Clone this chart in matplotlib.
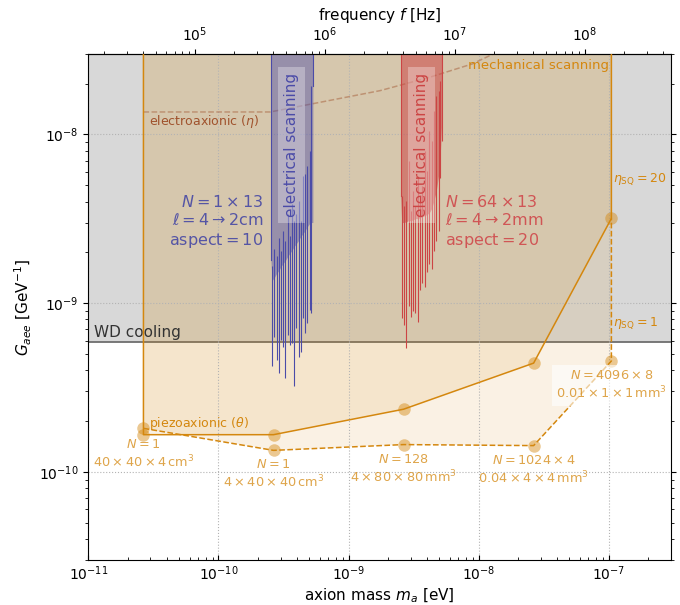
import numpy as np
import matplotlib
matplotlib.use('Agg')
import matplotlib.pyplot as plt

hbar = 6.582e-16  # eV s, top axis uses f = m / hbar

# white dwarf cooling bound
G_wd = 5.9e-10

# piezoaxionic, mechanical scanning (points for eta_SQ = 20 and eta_SQ = 1)
m_piezo = [2.65e-11, 2.65e-10, 2.65e-9, 2.65e-8, 1.05e-7]
G_sq20 = [1.66e-10, 1.66e-10, 2.35e-10, 4.41e-10, 3.18e-9]
G_sq1 = [1.81e-10, 1.34e-10, 1.45e-10, 1.43e-10, 4.54e-10]
piezo_labels = [r'$N=1$' '\n' r'$40\times40\times4\,\mathrm{cm}^3$',
                r'$N=1$' '\n' r'$4\times40\times40\,\mathrm{cm}^3$',
                r'$N=128$' '\n' r'$4\times80\times80\,\mathrm{mm}^3$',
                r'$N=1024\times4$' '\n' r'$0.04\times4\times4\,\mathrm{mm}^3$',
                r'$N=4096\times8$' '\n' r'$0.01\times1\times1\,\mathrm{mm}^3$']
label_G = [1.28e-10, 9.7e-11, 1.03e-10, 1.02e-10, 3.26e-10]

# electroaxionic reach
m_electro = [2.65e-11, 2.5e-10, 1.75e-9, 4.25e-9, 8.93e-9, 2.1e-8]
G_electro = [1.36e-8, 1.36e-8, 1.82e-8, 2.19e-8, 2.62e-8, 3.58e-8]

# electrical scanning, N = 1 x 13 (log10 of mass and coupling)
blue_edge_logm = [-9.597, -9.274]
blue_edge_env = [-8.747, -8.522]
blue_edge_top = -7.712
blue_logm = [-9.587, -9.570, -9.553, -9.536, -9.519, -9.502, -9.485, -9.468,
             -9.452, -9.435, -9.418, -9.401, -9.384, -9.367, -9.350, -9.333,
             -9.316, -9.299, -9.285]
blue_env = [-8.866, -8.848, -8.824, -8.807, -8.783, -8.765, -8.747, -8.724,
            -8.706, -8.688, -8.665, -8.647, -8.629, -8.605, -8.588, -8.570,
            -8.546, -8.528, -8.522]
blue_top = [-8.777, -8.676, -8.718, -8.611, -8.688, -8.570, -8.629, -8.469,
            -8.599, -8.410, -8.511, -8.469, -8.392, -8.511, -8.244, -8.233,
            -8.185, -8.096, -7.712]
blue_bot = [-9.375, -9.203, -9.339, -9.416, -9.221, -9.262, -9.446, -9.191,
            -9.250, -9.238, -9.493, -9.150, -9.321, -9.292, -9.091, -9.179,
            -9.120, -9.043, -9.061]

# electrical scanning, N = 64 x 13 (log10 of mass and coupling)
red_edge_logm = [-8.600, -8.278]
red_edge_env = [-8.363, -7.919]
red_edge_top = -7.623
red_logm = [-8.591, -8.573, -8.555, -8.538, -8.520, -8.502, -8.485, -8.467,
            -8.449, -8.432, -8.414, -8.396, -8.378, -8.361, -8.343, -8.325,
            -8.308, -8.293, -8.283]
red_env = [-8.522, -8.522, -8.517, -8.511, -8.511, -8.505, -8.499, -8.499,
           -8.493, -8.487, -8.481, -8.475, -8.463, -8.440, -8.392, -8.333,
           -8.244, -8.096, -7.919]
red_top = [-8.363, -8.422, -8.392, -8.156, -8.451, -8.333, -8.422, -8.244,
           -8.392, -8.304, -8.096, -8.215, -7.978, -8.037, -7.860, -7.771,
           -7.741, -7.682, -7.623]
red_bot = [-9.091, -9.132, -9.268, -9.014, -9.085, -9.049, -9.061, -9.114,
           -8.925, -8.878, -8.907, -8.818, -8.765, -8.795, -8.688, -8.629,
           -8.570, -8.256, -8.037]

xlim = (1e-11, 3e-7)
ylim = (3e-11, 3e-8)
ceil = 1e-6

orange = '#d4870e'
blue = '#4b4ba8'
red = '#cc4444'

fig = plt.figure(figsize=(6.8, 6.05), dpi=100)
ax = fig.add_axes([0.13, 0.0744, 0.8563, 0.8363])
ax.set_xscale('log')
ax.set_yscale('log')

# WD cooling
ax.fill_between(xlim, G_wd, ceil, color='gray', alpha=0.3, lw=0, zorder=0)
ax.axhline(G_wd, color='#6e6e6e', lw=1.3, zorder=1)
ax.text(1.1e-11, G_wd * 1.03, 'WD cooling', fontsize=11, color='#333333',
        va='bottom', ha='left')

# mechanical scanning regions
ax.fill_between(m_piezo, G_sq1, ceil, color=orange, alpha=0.11, lw=0, zorder=1)
ax.fill_between(m_piezo, G_sq20, ceil, color=orange, alpha=0.11, lw=0, zorder=1)
ax.plot([m_piezo[0]] + m_piezo + [m_piezo[-1]], [ceil] + G_sq20 + [ceil],
        color=orange, lw=1.1, zorder=3)
ax.plot(m_piezo + [m_piezo[-1]], G_sq1 + [G_sq20[-1]], color=orange, lw=1.1,
        ls='--', zorder=3)
ax.plot(m_piezo, G_sq20, 'o', color=orange, alpha=0.45, ms=9, mec='none', zorder=3)
ax.plot(m_piezo, G_sq1, 'o', color=orange, alpha=0.45, ms=9, mec='none', zorder=3)
for i, (m, g, s) in enumerate(zip(m_piezo, label_G, piezo_labels)):
    kw = {}
    if i == len(m_piezo) - 1:
        kw['bbox'] = dict(facecolor='white', alpha=0.6, edgecolor='none', pad=3)
    ax.text(m, g, s, ha='center', va='center', fontsize=9.3, color=orange,
            alpha=0.75, zorder=4, **kw)
ax.text(2.94e-11, 1.94e-10, r'piezoaxionic ($\theta$)', fontsize=9,
        color=orange, va='center', ha='left', zorder=4)
ax.text(1e-7, 2.55e-8, 'mechanical scanning', fontsize=9.5, color=orange,
        va='center', ha='right', zorder=4)
ax.text(1.08e-7, 5.4e-9, r'$\eta_{\rm SQ}=20$', fontsize=9, color=orange,
        va='center', ha='left', zorder=4)
ax.text(1.08e-7, 7.6e-10, r'$\eta_{\rm SQ}=1$', fontsize=9, color=orange,
        va='center', ha='left', zorder=4)

# electroaxionic
ax.plot(m_electro, G_electro, color='sienna', alpha=0.45, lw=1.1, ls='--', zorder=2)
ax.text(2.94e-11, 1.19e-8, r'electroaxionic ($\eta$)', fontsize=9,
        color='#a0522d', va='center', ha='left', zorder=4)

# electrical scanning: resonator dips below a filled envelope
for em, ee, et, lm, env, top, bot, c, a in [
        (blue_edge_logm, blue_edge_env, blue_edge_top, blue_logm, blue_env,
         blue_top, blue_bot, blue, 0.45),
        (red_edge_logm, red_edge_env, red_edge_top, red_logm, red_env,
         red_top, red_bot, red, 0.55)]:
    xs = 10**np.array([em[0]] + lm + [em[1]])
    ys = 10**np.array([ee[0]] + env + [ee[1]])
    ax.fill_between(xs, ys, ceil, color=c, alpha=a, lw=0, zorder=2)
    ax.vlines(10**np.array(lm), 10**np.array(bot), 10**np.array(top),
              color=c, lw=0.8, zorder=2)
    ax.plot([10**em[0]] * 2, [ceil, 10**ee[0]], color=c, lw=0.8, zorder=2)
    ax.plot([10**em[1]] * 2, [ceil, 10**et], color=c, lw=0.8, zorder=2)
    xc = 10**np.mean(em)
    ax.text(xc, 8.7e-9, 'electrical scanning', rotation=90, fontsize=11,
            color=c, ha='center', va='center', zorder=4,
            bbox=dict(boxstyle='square,pad=0.4', facecolor='white',
                      alpha=0.3, edgecolor='none'))

ax.text(2.21e-10, 3.04e-9, r'$N=1\times13$' '\n' r'$\ell=4\to2$cm' '\n'
        r'$\mathrm{aspect}=10$', fontsize=11.5, color='#5555a5',
        ha='right', va='center', multialignment='right', zorder=4)
ax.text(5.55e-9, 3.04e-9, r'$N=64\times13$' '\n' r'$\ell=4\to2$mm' '\n'
        r'$\mathrm{aspect}=20$', fontsize=11.5, color='#d05555',
        ha='left', va='center', multialignment='left', zorder=4)

ax.set_xlim(xlim)
ax.set_ylim(ylim)
ax.grid(True, which='major', ls=':', color='0.7', lw=0.8)
ax.tick_params(axis='y', which='both', right=True)
ax.tick_params(axis='x', which='both', direction='in')
ax.set_xlabel(r'axion mass $m_a$ [eV]', fontsize=11, labelpad=2)
ax.set_ylabel(r'$G_{aee}$ [GeV$^{-1}$]', fontsize=11)

sec = ax.secondary_xaxis('top', functions=(lambda m: m / hbar, lambda f: f * hbar))
sec.set_xlabel(r'frequency $f$ [Hz]', fontsize=11)

fig.savefig('out.png', dpi=100)
